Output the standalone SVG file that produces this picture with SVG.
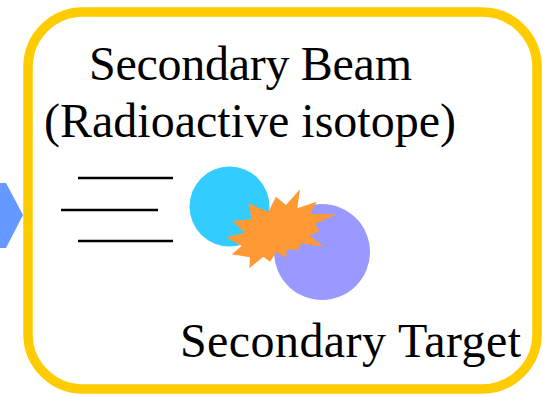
<svg xmlns="http://www.w3.org/2000/svg" width="543" height="397" viewBox="0 0 543 397">
<style>
.beam{stroke:#000;stroke-width:2.5;fill:none}
</style>
<defs></defs>
<rect width="543" height="397" fill="#fff"/>
<g id="arrow">
<polygon points="0,183 6,183 23,215 6,248 0,248" fill="#6699FF"/>
</g>
<g id="frame">
<rect x="28" y="12" width="509" height="377" rx="55" ry="55" fill="#fff" stroke="#FFCC00" stroke-width="9.5"/>
</g>
<g font-family="Liberation Serif, Times New Roman, serif" font-size="48" fill="#000">
<g id="label-beam">
<text x="89" y="80" textLength="323" lengthAdjust="spacing">Secondary Beam</text>
<text x="44" y="137" textLength="412" lengthAdjust="spacing">(Radioactive isotope)</text>
</g>
<g id="label-target">
<text x="180" y="357" textLength="341" lengthAdjust="spacing">Secondary Target</text>
</g>
</g>
<g id="beam-lines">
<line class="beam" x1="78" y1="178" x2="173" y2="178"/>
<line class="beam" x1="61" y1="210" x2="158" y2="210"/>
<line class="beam" x1="78" y1="241" x2="173" y2="241"/>
</g>
<g id="projectile">
<circle cx="229.5" cy="206.5" r="40" fill="#33CCFF"/>
</g>
<g id="target">
<circle cx="322" cy="252" r="48" fill="#9999FF"/>
</g>
<g id="collision">
<polygon fill="#FF9933" points="226,237.3 245,232.7 232.3,221 251.7,219.3 248.3,203.3 268.3,211.7 276,196.7 286,205 300,189.3 297.3,208.3 316.7,201.7 310,214 336.7,214.3 315,224 319.3,231.7 309.3,235 323.3,246.7 301.7,243.3 297.3,250 286.7,249.3 286,258.3 276.7,251.7 270,261.7 263.3,256.7 249.3,268.3 250,257.3 231.7,254.3 241.7,246"/>
</g>
</svg>
